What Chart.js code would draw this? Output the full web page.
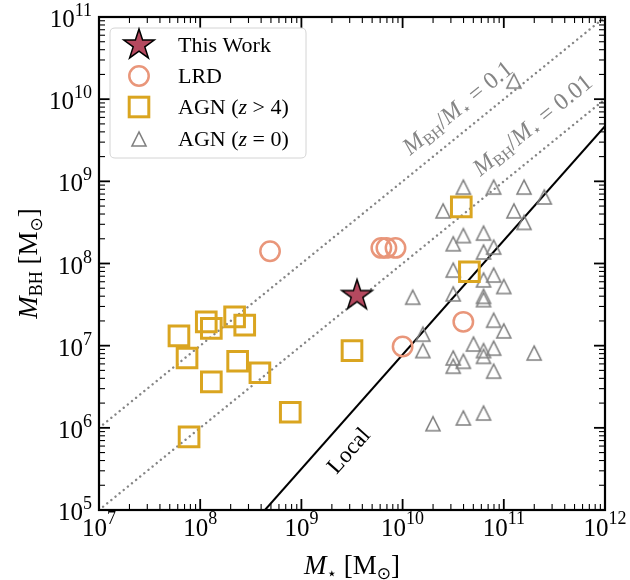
<!DOCTYPE html>
<html>
<head>
<meta charset="utf-8">
<script src="https://cdn.jsdelivr.net/npm/chart.js@4/dist/chart.umd.min.js"></script>
<style>
html,body{margin:0;padding:0;background:#ffffff;}
#wrap{width:630px;height:580px;}
</style>
</head>
<body>
<div id="wrap"><canvas id="c" width="630" height="580"></canvas></div>
<script>
// ---------- data (log10 values) ----------
const starLogM = [9.55];
const starLogBH = [7.61];

const lrdLogM  = [8.69, 9.79, 9.84, 9.93, 10.00, 10.60];
const lrdLogBH = [8.15, 8.19, 8.19, 8.19, 6.99, 7.29];

const agnHighzLogM  = [7.79, 7.87, 8.06, 8.11, 8.34, 8.44, 8.37, 8.59, 8.11, 8.89, 7.89, 9.50, 10.58, 10.66];
const agnHighzLogBH = [7.12, 6.85, 7.29, 7.21, 7.35, 7.25, 6.81, 6.67, 6.56, 6.19, 5.89, 6.94, 8.69, 7.90];

const agnLocalLogM  = [10.60, 10.90, 11.20, 11.40, 10.40, 11.10, 11.20, 10.60, 10.80, 10.50,
                       10.90, 10.80, 10.50, 10.90, 10.80, 11.00, 10.10, 10.50, 10.80, 10.80,
                       10.90, 11.00, 10.20, 10.20, 10.70, 10.80, 10.90, 10.80, 10.50, 10.60,
                       10.50, 11.30, 10.90, 10.30, 10.60, 10.80, 11.10];
const agnLocalLogBH = [8.93, 8.93, 8.93, 8.81, 8.64, 8.64, 8.50, 8.34, 8.37, 8.24,
                       8.20, 8.14, 7.92, 7.86, 7.80, 7.72, 7.59, 7.63, 7.60, 7.56,
                       7.31, 7.18, 7.14, 6.94, 7.02, 6.94, 6.97, 6.87, 6.85, 6.81,
                       6.75, 6.91, 6.69, 6.05, 6.12, 6.18, 10.22];

// constant mass-ratio lines and the local relation (end points)
const ratioValues = [0.1, 0.01];
const ratioLineM = [1e7, 1e12];
const localLogM  = [8.64, 12.0];
const localLogBH = [5.00, 9.67];

const xTickExps = [7, 8, 9, 10, 11, 12];
const yTickExps = [5, 6, 7, 8, 9, 10, 11];
const xMin = 1e7, xMax = 1e12, yMin = 1e5, yMax = 1e11;

// ---------- styles ----------
const SERIF = '"Liberation Serif","DejaVu Serif",serif';
const STAR_FILL = '#b5495f';
const LRD_COL = '#e9967a';
const AGNZ_COL = '#daa520';
const AGN0_COL = '#808080';
const RATIO_COL = '#858585';

function toPts(lx, ly) { return lx.map((v, i) => ({x: Math.pow(10, v), y: Math.pow(10, ly[i])})); }

function makeStar(R) {
  const s = Math.ceil(2 * R + 6);
  const c = document.createElement('canvas'); c.width = s; c.height = s;
  const g = c.getContext('2d');
  const cx = s / 2, cy = s / 2;
  g.beginPath();
  for (let i = 0; i < 10; i++) {
    const r = (i % 2) ? R * 0.381966 : R;
    const a = -Math.PI / 2 + i * Math.PI / 5;
    const px = cx + r * Math.cos(a), py = cy + r * Math.sin(a);
    if (i === 0) g.moveTo(px, py); else g.lineTo(px, py);
  }
  g.closePath();
  g.fillStyle = STAR_FILL; g.fill();
  g.lineWidth = 1.5; g.strokeStyle = '#000'; g.lineJoin = 'miter'; g.stroke();
  return c;
}
function makeTri(h) {
  const s = Math.ceil(h + 8);
  const c = document.createElement('canvas'); c.width = s; c.height = s;
  const g = c.getContext('2d');
  const cx = s / 2, cy = s / 2;
  g.beginPath();
  g.moveTo(cx, cy - h / 2);
  g.lineTo(cx - h / 2, cy + h / 2);
  g.lineTo(cx + h / 2, cy + h / 2);
  g.closePath();
  g.lineWidth = 1.6; g.strokeStyle = AGN0_COL; g.lineJoin = 'miter'; g.stroke();
  return c;
}
const starImg = makeStar(16);
const triImg = makeTri(14);

function drawRich(ctx, parts, x, y, align) {
  let w = 0;
  parts.forEach(p => { ctx.font = p.f; p.w = ctx.measureText(p.t).width; w += p.w; });
  let sx = align === 'center' ? x - w / 2 : (align === 'right' ? x - w : x);
  ctx.textAlign = 'left'; ctx.textBaseline = 'alphabetic';
  parts.forEach(p => { ctx.font = p.f; ctx.fillText(p.t, sx, y + (p.dy || 0)); sx += p.w; });
}

const decorPlugin = {
  id: 'decor',
  afterDraw(chart) {
    const ctx = chart.ctx;
    const xs = chart.scales.x, ys = chart.scales.y;
    const a = chart.chartArea;
    ctx.save();
    // ticks (inward, all four sides)
    ctx.strokeStyle = '#000';
    const tick = (x1, y1, x2, y2, lw) => { ctx.lineWidth = lw; ctx.beginPath(); ctx.moveTo(x1, y1); ctx.lineTo(x2, y2); ctx.stroke(); };
    for (let e = 7; e <= 12; e++) {
      for (let k = 1; k <= 9; k++) {
        const v = k * Math.pow(10, e);
        if (v > xMax * 1.0001) break;
        const px = xs.getPixelForValue(v);
        const L = k === 1 ? 11 : 6, lw = k === 1 ? 1.8 : 1.1;
        tick(px, a.bottom, px, a.bottom - L, lw);
        tick(px, a.top, px, a.top + L, lw);
      }
    }
    for (let e = 5; e <= 11; e++) {
      for (let k = 1; k <= 9; k++) {
        const v = k * Math.pow(10, e);
        if (v > yMax * 1.0001) break;
        const py = ys.getPixelForValue(v);
        const L = k === 1 ? 11 : 6, lw = k === 1 ? 1.8 : 1.1;
        tick(a.left, py, a.left + L, py, lw);
        tick(a.right, py, a.right - L, py, lw);
      }
    }
    // frame
    ctx.lineWidth = 2.2;
    ctx.strokeRect(a.left, a.top, a.right - a.left, a.bottom - a.top);

    // tick labels
    ctx.fillStyle = '#000';
    xTickExps.forEach(e => {
      const px = xs.getPixelForValue(Math.pow(10, e));
      drawRich(ctx, [{t: '10', f: `25px ${SERIF}`}, {t: String(e), f: `18px ${SERIF}`, dy: -12}], px, a.bottom + 26, 'center');
    });
    yTickExps.forEach(e => {
      const py = ys.getPixelForValue(Math.pow(10, e));
      drawRich(ctx, [{t: '10', f: `25px ${SERIF}`}, {t: String(e), f: `18px ${SERIF}`, dy: -11}], a.left - 7, py + 10, 'right');
    });

    // axis titles
    drawRich(ctx, [
      {t: 'M', f: `italic 27px ${SERIF}`},
      {t: '\u22C6', f: `17px "DejaVu Sans",sans-serif`, dy: 5},
      {t: ' [M', f: `27px ${SERIF}`},
      {t: '\u2299', f: `17px "DejaVu Sans",sans-serif`, dy: 5},
      {t: ']', f: `27px ${SERIF}`}
    ], (a.left + a.right) / 2, 574, 'center');
    ctx.save();
    ctx.translate(37, (a.top + a.bottom) / 2);
    ctx.rotate(-Math.PI / 2);
    drawRich(ctx, [
      {t: 'M', f: `italic 27px ${SERIF}`},
      {t: 'BH', f: `18px ${SERIF}`, dy: 5},
      {t: ' [M', f: `27px ${SERIF}`},
      {t: '\u2299', f: `17px "DejaVu Sans",sans-serif`, dy: 5},
      {t: ']', f: `27px ${SERIF}`}
    ], 0, 0, 'center');
    ctx.restore();

    // line annotations
    const p1 = {x: xs.getPixelForValue(1e7), y: ys.getPixelForValue(1e6)};
    const p2 = {x: xs.getPixelForValue(1e12), y: ys.getPixelForValue(1e11)};
    const angR = Math.atan2(p2.y - p1.y, p2.x - p1.x);
    const ratioLabel = (val, lx, ly) => {
      ctx.save();
      ctx.translate(xs.getPixelForValue(Math.pow(10, lx)), ys.getPixelForValue(Math.pow(10, ly)));
      ctx.rotate(angR);
      ctx.fillStyle = RATIO_COL;
      drawRich(ctx, [
        {t: 'M', f: `italic 24px ${SERIF}`},
        {t: 'BH', f: `16px ${SERIF}`, dy: 4},
        {t: '/', f: `24px ${SERIF}`},
        {t: 'M', f: `italic 24px ${SERIF}`},
        {t: '\u22C6', f: `15px "DejaVu Sans",sans-serif`, dy: 4},
        {t: ' = ' + val, f: `24px ${SERIF}`}
      ], 0, 8, 'center');
      ctx.restore();
    };
    ratioLabel('0.1', 10.54, 9.90);
    ratioLabel('0.01', 11.28, 9.69);

    const q1 = {x: xs.getPixelForValue(Math.pow(10, localLogM[0])), y: ys.getPixelForValue(Math.pow(10, localLogBH[0]))};
    const q2 = {x: xs.getPixelForValue(Math.pow(10, localLogM[1])), y: ys.getPixelForValue(Math.pow(10, localLogBH[1]))};
    const angL = Math.atan2(q2.y - q1.y, q2.x - q1.x);
    ctx.save();
    ctx.translate(xs.getPixelForValue(Math.pow(10, 9.46)), ys.getPixelForValue(Math.pow(10, 5.73)));
    ctx.rotate(angL);
    ctx.fillStyle = '#000';
    drawRich(ctx, [{t: 'Local', f: `23px ${SERIF}`}], 0, 8, 'center');
    ctx.restore();

    // legend
    const lx = 110, ly = 28, lw = 196, lh = 130, r = 5;
    ctx.beginPath();
    ctx.moveTo(lx + r, ly); ctx.lineTo(lx + lw - r, ly); ctx.quadraticCurveTo(lx + lw, ly, lx + lw, ly + r);
    ctx.lineTo(lx + lw, ly + lh - r); ctx.quadraticCurveTo(lx + lw, ly + lh, lx + lw - r, ly + lh);
    ctx.lineTo(lx + r, ly + lh); ctx.quadraticCurveTo(lx, ly + lh, lx, ly + lh - r);
    ctx.lineTo(lx, ly + r); ctx.quadraticCurveTo(lx, ly, lx + r, ly);
    ctx.closePath();
    ctx.fillStyle = 'rgba(255,255,255,0.85)'; ctx.fill();
    ctx.lineWidth = 1; ctx.strokeStyle = '#d4d4d4'; ctx.stroke();

    const mx = 139, rows = [45, 76, 107, 139], tx = 178;
    ctx.drawImage(starImg, mx - starImg.width / 2, rows[0] - starImg.height / 2);
    ctx.beginPath(); ctx.arc(mx, rows[1], 9.7, 0, Math.PI * 2);
    ctx.lineWidth = 2.5; ctx.strokeStyle = LRD_COL; ctx.stroke();
    ctx.lineWidth = 3; ctx.strokeStyle = AGNZ_COL; ctx.strokeRect(mx - 9.8, rows[2] - 9.8, 19.6, 19.6);
    ctx.drawImage(triImg, mx - triImg.width / 2, rows[3] - triImg.height / 2);

    ctx.fillStyle = '#000';
    const F = `22px ${SERIF}`, FI = `italic 22px ${SERIF}`;
    drawRich(ctx, [{t: 'This Work', f: F}], tx, rows[0] + 7, 'left');
    drawRich(ctx, [{t: 'LRD', f: F}], tx, rows[1] + 7, 'left');
    drawRich(ctx, [{t: 'AGN (', f: F}, {t: 'z', f: FI}, {t: ' > 4)', f: F}], tx, rows[2] + 7, 'left');
    drawRich(ctx, [{t: 'AGN (', f: F}, {t: 'z', f: FI}, {t: ' = 0)', f: F}], tx, rows[3] + 7, 'left');

    ctx.restore();
  }
};

const datasets = [
  {label: 'This Work', data: toPts(starLogM, starLogBH), pointStyle: starImg, pointRadius: 10},
  {label: 'LRD', data: toPts(lrdLogM, lrdLogBH), pointStyle: 'circle', pointRadius: 9.7,
   borderColor: LRD_COL, backgroundColor: 'rgba(0,0,0,0)', borderWidth: 2.5},
  {label: 'AGN (z > 4)', data: toPts(agnHighzLogM, agnHighzLogBH), pointStyle: 'rect', pointRadius: 13.9,
   borderColor: AGNZ_COL, backgroundColor: 'rgba(0,0,0,0)', borderWidth: 3},
  {label: 'AGN (z = 0)', data: toPts(agnLocalLogM, agnLocalLogBH), pointStyle: triImg, pointRadius: 8},
  {type: 'line', label: 'Local', data: toPts(localLogM, localLogBH), borderColor: '#000', borderWidth: 2,
   pointRadius: 0, fill: false, tension: 0}
];
ratioValues.forEach(rv => {
  datasets.push({type: 'line', label: 'ratio ' + rv,
    data: ratioLineM.map(m => ({x: m, y: rv * m})),
    borderColor: RATIO_COL, borderWidth: 2.4, borderDash: [0.01, 5.3], borderCapStyle: 'round',
    pointRadius: 0, fill: false, tension: 0});
});

new Chart(document.getElementById('c'), {
  type: 'scatter',
  data: {datasets},
  options: {
    responsive: false,
    animation: false,
    devicePixelRatio: 1,
    events: [],
    layout: {padding: {left: 99, right: 25, top: 17, bottom: 70}},
    plugins: {legend: {display: false}, tooltip: {enabled: false}},
    scales: {
      x: {type: 'logarithmic', min: xMin, max: xMax, display: false},
      y: {type: 'logarithmic', min: yMin, max: yMax, display: false}
    }
  },
  plugins: [decorPlugin]
});
</script>
</body>
</html>
